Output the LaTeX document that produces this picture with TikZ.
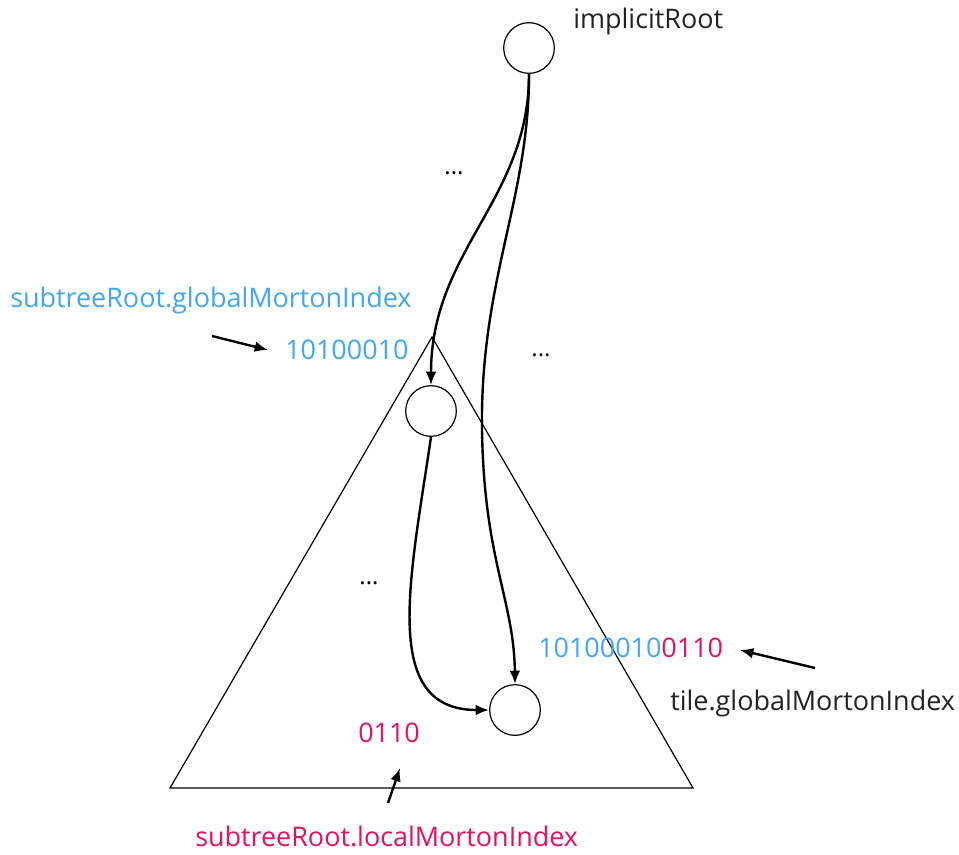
\documentclass[tikz,border=0pt]{standalone}
\usepackage{fontspec}
\setmainfont{Open Sans}
\usetikzlibrary{arrows.meta,positioning}
\definecolor{IdxBlue}{RGB}{66,165,245}
\definecolor{IdxPink}{RGB}{222,18,102}
\definecolor{TextGray}{RGB}{34,34,34}

\begin{document}
\begin{tikzpicture}[
    x=0.75pt, y=-0.75pt,
    tnode/.style={draw, circle, line width=0.9pt, minimum size=38pt, inner sep=0pt},
    lbl/.style={font=\fontsize{20.2}{24}\selectfont, text=TextGray, inner sep=0pt},
    blue/.style={lbl, text=IdxBlue},
    pink/.style={lbl, text=IdxPink},
    dots/.style={font=\fontsize{18}{20}\selectfont, inner sep=0pt},
    arr/.style={-{Latex[length=10pt,width=8pt]}, line width=1.8pt},
    ptr/.style={-{Latex[length=10pt,width=8pt]}, line width=1.8pt}
]
\useasboundingbox (0,0) rectangle (959,854);

%% ---- SUBTREE (triangle) ----
\coordinate (apex)  at (432,337);
\coordinate (left)  at (170,788);
\coordinate (right) at (693,788);
\draw[line width=0.9pt] (apex) -- (left) -- (right) -- cycle;

%% ---- TREE NODES ----
\node[tnode] (root) at (529,48)  {};
\node[tnode] (sub)  at (431,411) {};
\node[tnode] (leaf) at (515,710) {};

%% ---- LABELS ----
\node[lbl, anchor=west] (rootlbl) at (573,21) {implicitRoot};
\node[dots] (dotsA) at (454,173) {...};
\node[dots] (dotsB) at (541,355) {...};
\node[dots] (dotsC) at (369,583) {...};

\node[blue, anchor=west] (subglobal) at (10,300) {subtreeRoot.globalMortonIndex};
\node[blue, anchor=west] (subidx)    at (285,350) {10100010};
\node[lbl, anchor=west]  (tileglobal) at (670,703) {tile.globalMortonIndex};
\node[lbl, anchor=west]  (tileidx)   at (538,648) {\textcolor{IdxBlue}{10100010}\textcolor{IdxPink}{0110}};
\node[pink, anchor=west] (localidx)  at (358,733) {0110};
\node[pink, anchor=west] (sublocal)  at (195,836) {subtreeRoot.localMortonIndex};

%% ---- POINTER ARROWS ----
\coordinate (p1) at (212,336);
\coordinate (p1end) at (268,350);
\coordinate (p2) at (815,668);
\coordinate (p2end) at (740,650);
\coordinate (p3) at (388,803);
\coordinate (p3end) at (400,768);
\draw[ptr] (p1) -- (p1end);
\draw[ptr] (p2) -- (p2end);
\draw[ptr] (p3) -- (p3end);

%% ---- TREE EDGES ----
\draw[arr] (root.south) .. controls (529,200) and (431,250) .. (sub.north);
\draw[arr] (root.south) .. controls (529,200) and (480,280) .. (482,430)
                        .. controls (484,560) and (514,600) .. (leaf.north);
\draw[arr] (sub.south)  .. controls (410,580) and (380,710) .. (leaf.west);

\end{tikzpicture}
\end{document}
